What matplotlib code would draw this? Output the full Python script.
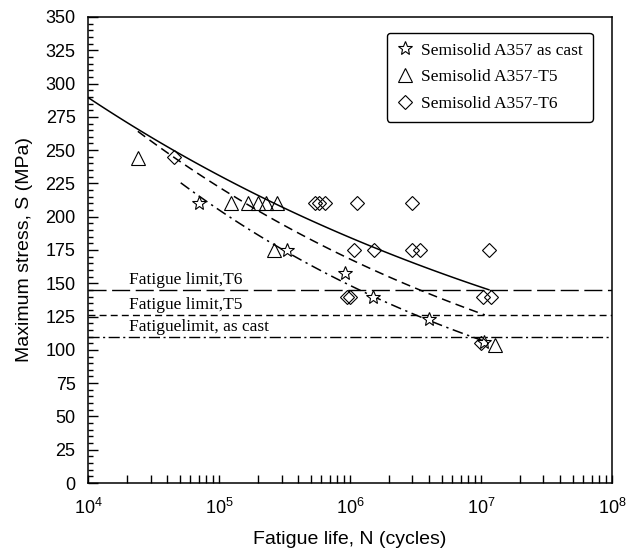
import matplotlib
matplotlib.use('Agg')
import matplotlib.pyplot as plt
import numpy as np
from matplotlib.ticker import MultipleLocator, LogLocator, NullFormatter

plt.rcParams['font.family'] = 'Liberation Sans'
plt.rcParams['mathtext.fontset'] = 'custom'
plt.rcParams['mathtext.rm'] = 'Liberation Sans'
plt.rcParams['mathtext.it'] = 'Liberation Sans:italic'

# data
cast_N = [7.0e4, 3.3e5, 9.1e5, 1.5e6, 4.0e6, 1.05e7]
cast_S = [210, 175, 158, 140, 123, 106]
t5_N = [2.4e4, 1.24e5, 1.67e5, 2.0e5, 2.3e5, 2.75e5, 2.65e5, 1.28e7]
t5_S = [244, 210, 210, 210, 210, 210, 175, 104]
t6_N = [4.5e4, 5.4e5, 5.8e5, 6.5e5, 1.13e6, 3.0e6, 1.07e6, 1.53e6, 2.95e6, 3.45e6,
        1.15e7, 9.5e5, 1.0e6, 1.04e7, 1.2e7, 1.0e7]
t6_S = [245, 210, 210, 210, 210, 210, 175, 175, 175, 175, 175, 140, 140, 140, 140, 105]

# Basquin fits S = A * N^b, with N range of each curve
t6_fit = (714, -0.098, 1e4, 1.15e7)
t5_fit = (895, -0.121, 2.4e4, 1.07e7)
cast_fit = (1034, -0.1405, 5.1e4, 1.1e7)

# fatigue limits (MPa)
lim_t6, lim_t5, lim_cast = 145, 126, 110


def fit_curve(p):
    a, b, n0, n1 = p
    n = np.logspace(np.log10(n0), np.log10(n1), 100)
    return n, a * n ** b


fig = plt.figure(figsize=(6.27, 5.48), dpi=100)
ax = fig.add_axes([0.1404, 0.1186, 0.8356, 0.8504])

serif = 'Liberation Serif'

n, s = fit_curve(t6_fit)
ax.plot(n, s, color='black', lw=1.1)
n, s = fit_curve(t5_fit)
l, = ax.plot(n, s, color='black', lw=1.1)
l.set_dashes((6, 3.5))
n, s = fit_curve(cast_fit)
l, = ax.plot(n, s, color='black', lw=1.1)
l.set_dashes((7, 3, 1.5, 3))

h = ax.axhline(lim_t6, color='black', lw=1.0)
h.set_dashes((13, 4))
h = ax.axhline(lim_t5, color='black', lw=1.0)
h.set_dashes((5, 3))
h = ax.axhline(lim_cast, color='black', lw=1.0)
h.set_dashes((8, 2.5, 1.5, 2.5))

ax.text(2.05e4, lim_t6 + 1.5, 'Fatigue limit,T6', family=serif, fontsize=12.5, va='bottom')
ax.text(2.05e4, lim_t5 + 1.5, 'Fatigue limit,T5', family=serif, fontsize=12.5, va='bottom')
ax.text(2.05e4, lim_cast + 1.5, 'Fatiguelimit, as cast', family=serif, fontsize=12.5, va='bottom')

ax.plot(cast_N, cast_S, ls='none', marker='*', ms=10.5, mfc='white', mec='black', mew=0.8,
        label='Semisolid A357 as cast')
ax.plot(t5_N, t5_S, ls='none', marker='^', ms=10, mfc='none', mec='black', mew=0.8,
        label='Semisolid A357-T5')
ax.plot(t6_N, t6_S, ls='none', marker='D', ms=7.5, mfc='none', mec='black', mew=0.8,
        label='Semisolid A357-T6')

ax.set_xscale('log')
ax.set_xlim(1e4, 1e8)
ax.set_ylim(0, 350)
ax.yaxis.set_major_locator(MultipleLocator(25))
ax.yaxis.set_minor_locator(MultipleLocator(5))
ax.xaxis.set_major_locator(LogLocator(base=10, numticks=10))
ax.xaxis.set_minor_locator(LogLocator(base=10, subs=np.arange(2, 10), numticks=20))
ax.xaxis.set_minor_formatter(NullFormatter())
ax.tick_params(axis='both', which='both', direction='in', top=False, right=False,
               labelsize=13, width=1.0)
ax.tick_params(axis='y', which='major', length=7, pad=9)
ax.tick_params(axis='y', which='minor', length=3.6)
ax.tick_params(axis='x', which='both', length=6)
ax.tick_params(axis='x', which='major', pad=11)
for sp in ax.spines.values():
    sp.set_linewidth(1.1)

ax.set_xlabel('Fatigue life, N (cycles)', fontsize=14, labelpad=9)
ax.set_ylabel('Maximum stress, S (MPa)', fontsize=14, labelpad=9)

leg = ax.legend(loc='upper right', bbox_to_anchor=(0.963, 0.966), prop={'family': serif, 'size': 12.5},
                frameon=True, fancybox=True, edgecolor='black', handlelength=1.0,
                handletextpad=0.45, borderpad=0.55, labelspacing=0.62, borderaxespad=0)
leg.get_frame().set_linewidth(1.0)
leg.get_frame().set_alpha(1)

fig.savefig('out.png', dpi=100)
